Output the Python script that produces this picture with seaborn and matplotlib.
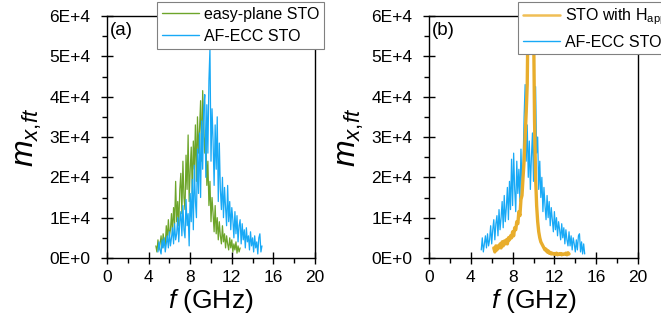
import numpy as np
import pandas as pd
import matplotlib
matplotlib.use("Agg")
import matplotlib.pyplot as plt
from matplotlib.lines import Line2D
from matplotlib.ticker import FixedLocator, FixedFormatter, MultipleLocator
import seaborn as sns

# ---------------- data (m values in units of 1E+4) ----------------
green_f = [4.7, 4.8, 4.9, 5.0, 5.1, 5.2, 5.3, 5.4, 5.5, 5.6, 5.7, 5.8, 5.9,
           6.0, 6.1, 6.2, 6.3, 6.4, 6.5, 6.6, 6.7, 6.8, 6.9,
           7.0, 7.1, 7.2, 7.3, 7.4, 7.5, 7.6, 7.7, 7.8, 7.9,
           8.0, 8.1, 8.2, 8.3, 8.4, 8.5, 8.6, 8.7, 8.8, 8.9,
           9.0, 9.1, 9.2, 9.3, 9.4, 9.5, 9.6, 9.7, 9.8, 9.9,
           10.0, 10.1, 10.2, 10.3, 10.4, 10.5, 10.6, 10.7, 10.8, 10.9,
           11.0, 11.1, 11.2, 11.3, 11.4, 11.5, 11.6, 11.7, 11.8, 11.9,
           12.0, 12.1, 12.2, 12.3, 12.4, 12.5, 12.6, 12.7, 12.8]
green_m = [0.30, 0.15, 0.45, 0.20, 0.35, 0.55, 0.25, 0.60, 0.40, 0.30, 0.80, 0.45, 0.95,
           0.55, 0.70, 1.10, 0.60, 1.25, 0.85, 1.90, 0.90, 1.40, 0.80,
           1.70, 2.10, 1.10, 2.40, 1.50, 1.20, 2.55, 1.70, 3.05, 1.40,
           2.20, 2.75, 1.60, 2.90, 2.20, 3.30, 1.90, 3.50, 2.60, 3.20,
           3.90, 2.40, 4.15, 3.30, 2.60, 3.10, 1.80, 2.40, 1.30, 1.90,
           0.90, 1.50, 1.10, 0.65, 1.30, 0.60, 1.00, 0.45, 0.90, 0.55,
           0.35, 0.80, 0.40, 0.60, 0.25, 0.55, 0.35, 0.20, 0.50, 0.25,
           0.45, 0.15, 0.35, 0.20, 0.40, 0.12, 0.30, 0.15, 0.25]

blueA_f = [4.9, 5.0, 5.1, 5.2, 5.3, 5.4, 5.5, 5.6, 5.7, 5.8, 5.9,
           6.0, 6.1, 6.2, 6.3, 6.4, 6.5, 6.6, 6.7, 6.8, 6.9,
           7.0, 7.1, 7.2, 7.3, 7.4, 7.5, 7.6, 7.7, 7.8, 7.9,
           8.0, 8.1, 8.2, 8.3, 8.4, 8.5, 8.6, 8.7, 8.8, 8.9,
           9.0, 9.1, 9.2, 9.3, 9.4, 9.5, 9.6, 9.7, 9.8, 9.9,
           10.0, 10.1, 10.2, 10.3, 10.4, 10.5, 10.6, 10.7, 10.8, 10.9,
           11.0, 11.1, 11.2, 11.3, 11.4, 11.5, 11.6, 11.7, 11.8, 11.9,
           12.0, 12.1, 12.2, 12.3, 12.4, 12.5, 12.6, 12.7, 12.8, 12.9,
           13.0, 13.1, 13.2, 13.3, 13.4, 13.5, 13.6, 13.7, 13.8, 13.9,
           14.0, 14.1, 14.2, 14.3, 14.4, 14.5, 14.6, 14.7, 14.8, 14.9]
blueA_m = [0.15, 0.40, 0.20, 0.10, 0.45, 0.25, 0.50, 0.15, 0.35, 0.55, 0.25,
           0.65, 0.30, 0.50, 0.75, 0.35, 0.85, 0.45, 0.60, 1.00, 0.40,
           0.90, 1.15, 0.55, 1.30, 0.70, 0.50, 1.45, 0.80, 1.10, 0.30,
           1.60, 0.90, 1.95, 0.70, 2.30, 1.40, 1.00, 2.70, 1.60, 3.10,
           1.50, 3.40, 2.20, 3.70, 4.05, 2.00, 3.80, 2.60, 4.40, 5.20,
           2.40, 3.70, 2.90, 1.80, 3.30, 2.20, 3.50, 1.40, 2.85, 1.70,
           1.20, 2.00, 1.00, 1.75, 1.25, 0.80, 1.80, 0.90, 1.40, 0.70,
           1.25, 0.95, 0.50, 1.15, 0.60, 1.05, 0.40, 0.80, 0.95, 0.35,
           0.85, 0.45, 0.70, 0.25, 0.75, 0.40, 0.55, 0.20, 0.65, 0.30,
           0.50, 0.15, 0.55, 0.25, 0.40, 0.10, 0.50, 0.60, 0.15, 0.30]

blueB_f = [5.0, 5.1, 5.2, 5.3, 5.4, 5.5, 5.6, 5.7, 5.8, 5.9,
           6.0, 6.1, 6.2, 6.3, 6.4, 6.5, 6.6, 6.7, 6.8, 6.9,
           7.0, 7.1, 7.2, 7.3, 7.4, 7.5, 7.6, 7.7, 7.8, 7.9,
           8.0, 8.1, 8.2, 8.3, 8.4, 8.5, 8.6, 8.7, 8.8, 8.9,
           9.0, 9.1, 9.2, 9.3, 9.4, 9.5, 9.6, 9.7, 9.8, 9.9,
           10.0, 10.1, 10.2, 10.3, 10.4, 10.5, 10.6, 10.7, 10.8, 10.9,
           11.0, 11.1, 11.2, 11.3, 11.4, 11.5, 11.6, 11.7, 11.8, 11.9,
           12.0, 12.1, 12.2, 12.3, 12.4, 12.5, 12.6, 12.7, 12.8, 12.9,
           13.0, 13.1, 13.2, 13.3, 13.4, 13.5, 13.6, 13.7, 13.8, 13.9,
           14.0, 14.1, 14.2, 14.3, 14.4, 14.5, 14.6, 14.7, 14.8, 14.9]
blueB_m = [0.20, 0.50, 0.15, 0.35, 0.55, 0.25, 0.60, 0.30, 0.45, 0.80,
           0.35, 0.70, 0.95, 0.45, 0.85, 1.05, 0.55, 1.20, 0.70, 1.00,
           1.40, 0.75, 1.55, 0.90, 1.25, 1.75, 0.95, 1.90, 1.20, 2.45,
           1.30, 2.60, 1.70, 1.15, 2.40, 1.60, 2.20, 1.40, 2.70, 1.80,
           2.30, 3.50, 4.30, 2.40, 3.30, 2.00, 2.90, 1.70, 2.50, 3.10,
           1.90, 3.40, 4.25, 2.60, 3.00, 1.70, 2.40, 1.50, 2.00, 1.15,
           1.75, 1.30, 0.95, 1.55, 1.00, 1.40, 0.80, 1.25, 0.95, 0.65,
           1.15, 0.70, 1.00, 0.55, 0.90, 0.70, 0.45, 0.85, 0.50, 0.75,
           0.35, 0.70, 0.45, 0.30, 0.65, 0.30, 0.55, 0.20, 0.50, 0.35,
           0.15, 0.45, 0.20, 0.55, 0.60, 0.15, 0.40, 0.10, 0.35, 0.10]

orange_f = [6.2, 6.3, 6.4, 6.5, 6.6, 6.7, 6.8, 6.9,
            7.0, 7.1, 7.2, 7.3, 7.4, 7.5, 7.6, 7.7, 7.8, 7.9,
            8.0, 8.1, 8.2, 8.3, 8.4, 8.5, 8.6, 8.7, 8.8, 8.9,
            9.0, 9.1, 9.2, 9.3, 9.4, 9.5, 9.6, 9.7, 9.8, 9.9,
            10.0, 10.1, 10.2, 10.3, 10.4, 10.5, 10.6, 10.7, 10.8, 10.9,
            11.0, 11.1, 11.2, 11.3, 11.4, 11.5, 11.6, 11.7, 11.8, 11.9,
            12.0, 12.1, 12.2, 12.3, 12.4, 12.5, 12.6, 12.7, 12.8, 12.9,
            13.0, 13.1, 13.2, 13.3, 13.4]
orange_m = [0.25, 0.15, 0.30, 0.20, 0.30, 0.25, 0.35, 0.25,
            0.40, 0.30, 0.42, 0.35, 0.45, 0.35, 0.50, 0.45, 0.55, 0.50,
            0.65, 0.55, 0.75, 0.70, 0.90, 0.85, 1.15, 1.05, 1.45, 1.55,
            2.00, 2.40, 3.00, 3.60, 4.30, 6.50, 8.00, 9.00, 9.50, 8.50,
            6.00, 3.40, 2.00, 1.30, 0.90, 0.65, 0.50, 0.40, 0.35, 0.30,
            0.25, 0.20, 0.22, 0.15, 0.18, 0.12, 0.14, 0.10, 0.12, 0.10,
            0.11, 0.09, 0.12, 0.08, 0.10, 0.09, 0.11, 0.08, 0.10, 0.09,
            0.10, 0.12, 0.08, 0.13, 0.10]

x_ticks = [0, 4, 8, 12, 16, 20]
y_ticks = [0, 1e4, 2e4, 3e4, 4e4, 5e4, 6e4]
y_tick_labels = ["0E+0", "1E+4", "2E+4", "3E+4", "4E+4", "5E+4", "6E+4"]
scale = 1e4

C_GREEN = "#6DA52A"
C_BLUE = "#18A9F6"
C_ORANGE = "#E8AD2C"

# ---------------- style ----------------
sns.set_theme(style="ticks")
plt.rcParams["font.family"] = ["Liberation Sans", "DejaVu Sans"]
plt.rcParams["mathtext.fontset"] = "custom"
plt.rcParams["mathtext.rm"] = "Liberation Sans"
plt.rcParams["mathtext.it"] = "Liberation Sans:italic"
plt.rcParams["axes.linewidth"] = 1.0
for k in ("text.color", "axes.labelcolor", "xtick.color", "ytick.color"):
    plt.rcParams[k] = "black"


def df_of(f, m):
    return pd.DataFrame({"f": f, "m": np.asarray(m) * scale})


fig = plt.figure(figsize=(6.61, 3.30), dpi=100)
axL = fig.add_axes([107 / 661, 72 / 330, 208 / 661, 242 / 330])
axR = fig.add_axes([429 / 661, 72 / 330, 209 / 661, 242 / 330])

sns.lineplot(data=df_of(green_f, green_m), x="f", y="m", ax=axL, color=C_GREEN,
             lw=0.9, estimator=None, sort=False)
sns.lineplot(data=df_of(blueA_f, blueA_m), x="f", y="m", ax=axL, color=C_BLUE,
             lw=0.9, estimator=None, sort=False)

sns.lineplot(data=df_of(blueB_f, blueB_m), x="f", y="m", ax=axR, color=C_BLUE,
             lw=0.9, estimator=None, sort=False)
sns.lineplot(data=df_of(orange_f, orange_m), x="f", y="m", ax=axR, color=C_ORANGE,
             lw=2.4, estimator=None, sort=False)

for ax, tag in ((axL, "(a)"), (axR, "(b)")):
    ax.set_xlim(0, 20)
    ax.set_ylim(0, 6e4)
    ax.xaxis.set_major_locator(FixedLocator(x_ticks))
    ax.xaxis.set_minor_locator(MultipleLocator(2))
    ax.yaxis.set_major_locator(FixedLocator(y_ticks))
    ax.yaxis.set_major_formatter(FixedFormatter(y_tick_labels))
    ax.yaxis.set_minor_locator(MultipleLocator(5e3))
    ax.tick_params(which="major", direction="inout", length=8, width=1.0,
                   labelsize=12.5, color="black", labelcolor="black")
    ax.tick_params(axis="x", which="major", pad=5)
    ax.tick_params(axis="y", which="major", pad=8)
    ax.tick_params(which="minor", direction="out", length=3.5, width=1.0, color="black")
    for s in ax.spines.values():
        s.set_visible(True)
        s.set_color("black")
        s.set_linewidth(1.0)
    ax.set_xlabel("$f$ (GHz)", fontsize=19, labelpad=1)
    ax.set_ylabel("$m_{x{,}ft}$", fontsize=23, labelpad=4)
    ax.text(0.015, 0.975, tag, transform=ax.transAxes, fontsize=13.5,
            ha="left", va="top")
    ax.grid(False)
    ax.set_facecolor("white")

# legends
hL = [Line2D([], [], color=C_GREEN, lw=1.0), Line2D([], [], color=C_BLUE, lw=1.0)]
legL = axL.legend(hL, ["easy-plane STO", "AF-ECC STO"], loc="upper left",
                  bbox_to_anchor=(157 / 661, 1 - 2 / 330), bbox_transform=fig.transFigure,
                  borderaxespad=0, fontsize=11.5, frameon=True, fancybox=False,
                  edgecolor="#808080", framealpha=1, handlelength=2.3,
                  handletextpad=0.35, labelspacing=0.45, borderpad=0.3)
legL.get_frame().set_linewidth(0.8)
legL.set_zorder(10)

hR = [Line2D([], [], color="#F0BE55", lw=1.8), Line2D([], [], color=C_BLUE, lw=1.0)]
legR = axR.legend(hR, ["STO with H$_{\\mathrm{app}}$", "AF-ECC STO"], loc="upper left",
                  bbox_to_anchor=(518 / 661, 1 - 2 / 330), bbox_transform=fig.transFigure,
                  borderaxespad=0, fontsize=11.5, frameon=True, fancybox=False,
                  edgecolor="#808080", framealpha=1, handlelength=2.3,
                  handletextpad=0.35, labelspacing=0.45, borderpad=0.3)
legR.get_frame().set_linewidth(0.8)
legR.set_zorder(10)

fig.savefig("out.png", dpi=100, facecolor="white")
